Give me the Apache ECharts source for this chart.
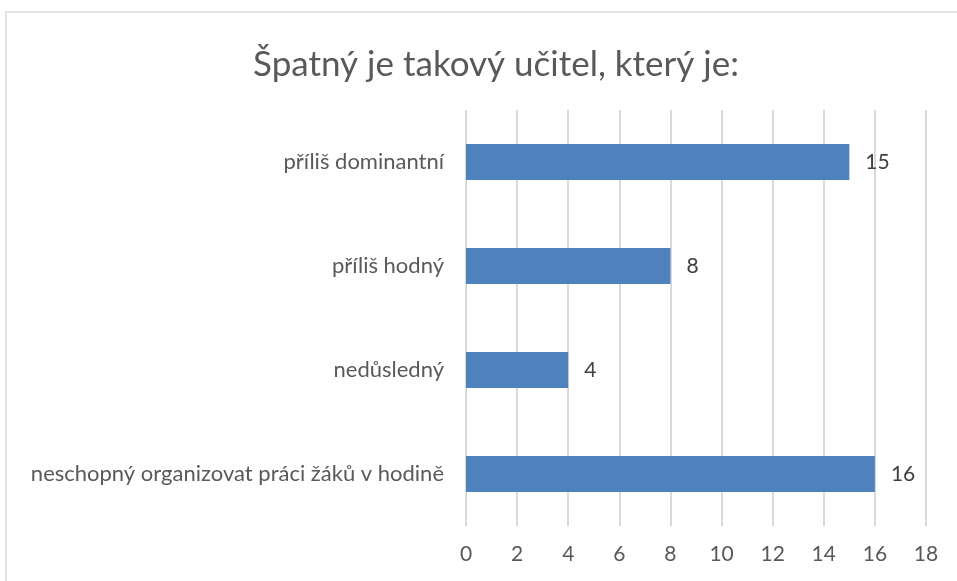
<!DOCTYPE html>
<html>
<head>
<meta charset="utf-8">
<script src="https://cdn.jsdelivr.net/npm/echarts@6/dist/echarts.min.js"></script>
<style>
html,body{margin:0;padding:0;background:#fff;}
#main{width:957px;height:581px;}
</style>
</head>
<body>
<div id="main"></div>
<script>
// data
var categories = ['příliš dominantní', 'příliš hodný', 'nedůsledný', 'neschopný organizovat práci žáků v hodině'];
var values = [15, 8, 4, 16];
var titleText = 'Špatný je takový učitel, který je:';

var chart = echarts.init(document.getElementById('main'));

var option = {
    backgroundColor: '#ffffff',
    textStyle: { fontFamily: 'Lato' },
    graphic: [{
        type: 'rect',
        shape: { x: 6, y: 12, width: 1000, height: 620 },
        style: { fill: 'none', stroke: '#d9d9d9', lineWidth: 1.5 },
        silent: true
    }],
    title: {
        text: titleText,
        left: 491,
        top: 42,
        textAlign: 'center',
        textStyle: { fontSize: 35, fontWeight: 'normal', color: '#595959', fontFamily: 'Lato' }
    },
    grid: { left: 466, right: 31, top: 110, bottom: 55, containLabel: false },
    xAxis: {
        type: 'value',
        min: 0,
        max: 18,
        interval: 2,
        axisLine: { show: false },
        axisTick: { show: false },
        axisLabel: { color: '#595959', fontSize: 21, margin: 18 },
        splitLine: { lineStyle: { color: '#d9d9d9', width: 2 } }
    },
    yAxis: {
        type: 'category',
        inverse: true,
        data: categories,
        axisLine: { show: false },
        axisTick: { show: false },
        axisLabel: { color: '#595959', fontSize: 22, margin: 22 }
    },
    series: [{
        type: 'bar',
        data: values,
        barWidth: 36,
        itemStyle: { color: '#4f81bd' },
        label: {
            show: true,
            position: 'right',
            distance: 16,
            color: '#404040',
            fontSize: 21
        }
    }]
};

chart.setOption(option);
</script>
</body>
</html>
